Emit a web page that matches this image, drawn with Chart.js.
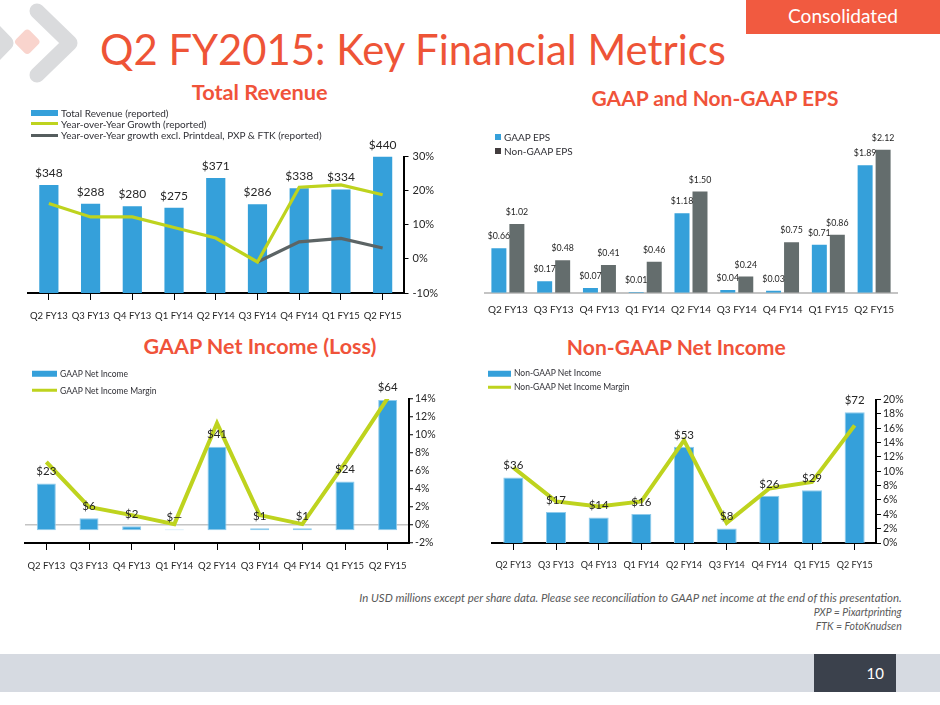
<!DOCTYPE html>
<html>
<head>
<meta charset="utf-8">
<script src="https://cdn.jsdelivr.net/npm/chart.js@4.4.1/dist/chart.umd.min.js"></script>
<style>
  html, body { margin:0; padding:0; }
  body { width:940px; height:705px; position:relative; background:#fff; overflow:hidden; font-family: Lato, 'Open Sans', sans-serif; }
  .abs { position:absolute; }
  .ctr { position:absolute; transform:translate(-50%,-50%); white-space:nowrap; line-height:1; }
  .vc { position:absolute; transform:translateY(-50%); white-space:nowrap; line-height:1; }
  .ctitle { color:#F0533A; font-weight:700; font-size:21px; }
  .leg { position:absolute; display:flex; align-items:center; white-space:nowrap; color:#303036; transform:translateY(-50%); line-height:1; }
  .leg .mk { display:inline-block; margin-right:3px; }
  canvas { position:absolute; }
  .foot { color:#595959; font-style:italic; font-size:10.5px; right:38.3px; }
</style>
</head>
<body>

<!-- logo -->
<svg class="abs" style="left:0;top:0" width="90" height="90" viewBox="0 0 90 90">
  <polyline points="-26,10 6,43 -26,76" fill="none" stroke="#DADBDD" stroke-width="15" stroke-linecap="round" stroke-linejoin="round"/>
  <polyline points="37,11 70,43 37,75" fill="none" stroke="#DADBDD" stroke-width="15" stroke-linecap="round" stroke-linejoin="round"/>
  <rect x="17.5" y="32" width="19.5" height="19.5" rx="4" transform="rotate(45 27.25 41.75)" fill="#F9D4CD"/>
</svg>

<!-- header -->
<div class="abs" style="left:746px;top:0;width:194px;height:34px;background:#F15A40;"></div>
<div class="ctr" id="consol" style="left:843px;top:16px;color:#fff;font-size:19px;">Consolidated</div>
<div class="vc" id="mainTitle" style="left:100px;top:49.5px;color:#EE5437;font-size:42px;">Q2 FY2015: Key Financial Metrics</div>

<!-- chart titles -->
<div class="ctr ctitle" id="t1" style="left:259.7px;top:93.3px;">Total Revenue</div>
<div class="ctr ctitle" id="t2" style="left:715px;top:97.3px;">GAAP and Non-GAAP EPS</div>
<div class="ctr ctitle" id="t3" style="left:260px;top:347px;">GAAP Net Income (Loss)</div>
<div class="ctr ctitle" id="t4" style="left:676.3px;top:347px;">Non-GAAP Net Income</div>

<!-- canvases -->
<canvas id="c1" width="470" height="230" style="left:0;top:100px;"></canvas>
<canvas id="c2" width="470" height="230" style="left:470px;top:100px;"></canvas>
<canvas id="c3" width="470" height="225" style="left:0;top:355px;"></canvas>
<canvas id="c4" width="470" height="225" style="left:470px;top:355px;"></canvas>

<!-- legends -->
<div class="leg" style="left:31px;top:113.3px;font-size:10px;"><span class="mk" style="width:27px;height:6px;background:#35A0DA;"></span>Total Revenue (reported)</div>
<div class="leg" style="left:31px;top:123.7px;font-size:10px;"><span class="mk" style="width:27px;height:3px;background:#BED31E;"></span>Year-over-Year Growth (reported)</div>
<div class="leg" style="left:31px;top:135px;font-size:10px;"><span class="mk" style="width:27px;height:3px;background:#555D5E;"></span>Year-over-Year growth excl. Printdeal, PXP &amp; FTK (reported)</div>

<div class="leg" style="left:495px;top:136.7px;font-size:10px;"><span class="mk" style="width:6px;height:6px;background:#35A0DA;margin-right:3px;"></span>GAAP EPS</div>
<div class="leg" style="left:495px;top:151px;font-size:10px;"><span class="mk" style="width:6px;height:6px;background:#423C3E;margin-right:3px;"></span>Non-GAAP EPS</div>

<div class="leg" style="left:32px;top:374px;font-size:8.5px;"><span class="mk" style="width:25px;height:6px;background:#35A0DA;"></span>GAAP Net Income</div>
<div class="leg" style="left:32px;top:390.7px;font-size:8.5px;"><span class="mk" style="width:25px;height:3px;background:#BED31E;"></span>GAAP Net Income Margin</div>

<div class="leg" style="left:488px;top:373.3px;font-size:8.5px;"><span class="mk" style="width:23px;height:6px;background:#35A0DA;"></span>Non-GAAP Net Income</div>
<div class="leg" style="left:488px;top:387.3px;font-size:8.5px;"><span class="mk" style="width:23px;height:3px;background:#BED31E;"></span>Non-GAAP Net Income Margin</div>

<!-- footnotes -->
<div class="vc foot" id="f1" style="top:598px;">In USD millions except per share data. Please see reconciliation to GAAP net income at the end of this presentation.</div>
<div class="vc foot" style="top:611.7px;">PXP = Pixartprinting</div>
<div class="vc foot" style="top:625.7px;">FTK = FotoKnudsen</div>

<!-- footer band -->
<div class="abs" style="left:0;top:654px;width:940px;height:38px;background:#D6DAE1;"></div>
<div class="abs" style="left:814px;top:654px;width:82px;height:38px;background:#3B414C;"></div>
<div class="vc" style="right:56px;top:673px;color:#fff;font-size:15px;">10</div>

<script>
// ---------------- DATA ----------------
const categories = ['Q2 FY13','Q3 FY13','Q4 FY13','Q1 FY14','Q2 FY14','Q3 FY14','Q4 FY14','Q1 FY15','Q2 FY15'];

const totalRevenue   = [348, 288, 280, 275, 371, 286, 338, 334, 440];
const yoyGrowth      = [16.2, 12.3, 12.3, 9.2, 6.1, -0.9, 21.0, 21.7, 18.8];
const yoyGrowthExcl  = [null, null, null, null, null, -0.9, 5.0, 6.0, 3.2];
const revenuePctTicks = [-10, 0, 10, 20, 30];

const gaapEps    = [0.66, 0.17, 0.07, 0.01, 1.18, 0.04, 0.03, 0.71, 1.89];
const nonGaapEps = [1.02, 0.48, 0.41, 0.46, 1.50, 0.24, 0.75, 0.86, 2.12];

const gaapNetIncome  = [23, 6, 2, 0.4, 41, 1, 1, 24, 64];
const gaapMargin     = [7.0, 2.0, 1.1, 0.1, 11.3, 1.1, 0.1, 6.9, 14.1];
const gaapPctTicks   = [-2, 0, 2, 4, 6, 8, 10, 12, 14];

const nonGaapNetIncome = [36, 17, 14, 16, 53, 8, 26, 29, 72];
const nonGaapMargin    = [10.5, 5.8, 5.1, 5.8, 14.3, 2.8, 7.6, 8.5, 16.4];
const nonGaapPctTicks  = [0, 2, 4, 6, 8, 10, 12, 14, 16, 18, 20];

// ---------------- TEXT FITTING ----------------
function fitText(id, w) {
  const el = document.getElementById(id);
  const cur = el.getBoundingClientRect().width;
  const fs = parseFloat(getComputedStyle(el).fontSize);
  el.style.fontSize = (fs * w / cur) + 'px';
}
fitText('mainTitle', 626);
fitText('t1', 136);
fitText('t2', 247);
fitText('t3', 233);
fitText('t4', 219);
fitText('f1', 543);
fitText('consol', 110);

// ---------------- CHARTS ----------------
Chart.defaults.font.family = "Lato, 'Open Sans', sans-serif";
Chart.defaults.color = '#262626';

const BLUE = '#35A0DA', GREEN = '#BED31E', DARK = '#5C6465', EPSGRAY = '#646D6D';

// value labels drawn on top of everything
const valueLabels = {
  id: 'valueLabels',
  afterDatasetsDraw(chart, args, opts) {
    if (!opts.sets) return;
    const ctx = chart.ctx;
    ctx.save();
    ctx.font = opts.font;
    ctx.fillStyle = opts.color || '#262626';
    ctx.textAlign = 'center';
    ctx.textBaseline = 'alphabetic';
    opts.sets.forEach(di => {
      const ds = chart.data.datasets[di];
      chart.getDatasetMeta(di).data.forEach((el, i) => {
        const v = ds.data[i];
        if (v == null) return;
        ctx.fillText(opts.format(v), el.x, el.y - opts.offset);
      });
    });
    ctx.restore();
  }
};

const baseOpts = {
  responsive: false,
  animation: false,
  events: [],
};

function ticksFrom(arr) {
  return s => { s.ticks = arr.map(v => ({ value: v })); };
}

// Chart 1: Total Revenue
new Chart(document.getElementById('c1'), {
  type: 'bar',
  data: {
    labels: categories,
    datasets: [
      { type: 'line', data: yoyGrowth, yAxisID: 'y1', borderColor: GREEN, borderWidth: 3.2, pointRadius: 0, tension: 0, order: 1 },
      { type: 'line', data: yoyGrowthExcl, yAxisID: 'y1', borderColor: DARK, borderWidth: 3.2, pointRadius: 0, tension: 0, order: 2 },
      { type: 'bar', data: totalRevenue, yAxisID: 'y', backgroundColor: BLUE, barPercentage: 0.46, categoryPercentage: 1, order: 3 }
    ]
  },
  options: Object.assign({}, baseOpts, {
    layout: { padding: { left: 28, top: 56.5, right: 0, bottom: 0 } },
    plugins: {
      legend: { display: false }, tooltip: { enabled: false },
      valueLabels: { sets: [2], font: "12px Lato, 'Open Sans', sans-serif", offset: 8, format: v => '$' + v }
    },
    scales: {
      x: {
        offset: true,
        border: { color: '#000', width: 2 },
        grid: { display: true, drawOnChartArea: false, drawTicks: true, tickLength: 7, tickColor: '#000', tickWidth: 1, offset: false },
        ticks: { font: { size: 9.5 }, color: '#262626', padding: 10, maxRotation: 0, autoSkip: false },
        afterFit(s) { s.height = 37; }
      },
      y: { display: false, min: 0, max: 440 },
      y1: {
        position: 'right',
        min: revenuePctTicks[0], max: revenuePctTicks[revenuePctTicks.length - 1],
        afterBuildTicks: ticksFrom(revenuePctTicks),
        ticks: { callback: v => v + '%', font: { size: 11 }, padding: 4, color: '#262626', autoSkip: false },
        border: { color: '#000', width: 2 },
        grid: { drawOnChartArea: false, tickLength: 5, tickColor: '#000', tickWidth: 1 },
        afterFit(s) { s.width = 66.5; }
      }
    }
  }),
  plugins: [valueLabels]
});

// Chart 2: EPS
new Chart(document.getElementById('c2'), {
  type: 'bar',
  data: {
    labels: categories,
    datasets: [
      { data: gaapEps, backgroundColor: BLUE, barPercentage: 0.833, categoryPercentage: 0.786 },
      { data: nonGaapEps, backgroundColor: EPSGRAY, barPercentage: 0.833, categoryPercentage: 0.786 }
    ]
  },
  options: Object.assign({}, baseOpts, {
    layout: { padding: { left: 15, top: 41, right: 43, bottom: 0 } },
    plugins: {
      legend: { display: false }, tooltip: { enabled: false },
      valueLabels: { sets: [0, 1], font: "8.8px Lato, 'Open Sans', sans-serif", offset: 9, format: v => '$' + v.toFixed(2) }
    },
    scales: {
      x: {
        offset: true,
        border: { color: '#C4C4C4', width: 2 },
        grid: { display: true, drawOnChartArea: false, drawTicks: false },
        ticks: { font: { size: 10 }, color: '#262626', padding: 11, maxRotation: 0, autoSkip: false },
        afterFit(s) { s.height = 37.3; }
      },
      y: { display: false, min: 0, max: 2.25 }
    }
  }),
  plugins: [valueLabels]
});

// Chart 3: GAAP Net Income
new Chart(document.getElementById('c3'), {
  type: 'bar',
  data: {
    labels: categories,
    datasets: [
      { type: 'line', data: gaapMargin, yAxisID: 'y1', borderColor: GREEN, borderWidth: 4, pointRadius: 0, tension: 0, order: 1 },
      { type: 'bar', data: gaapNetIncome, yAxisID: 'y', backgroundColor: BLUE, borderColor: '#8FCBEC', borderWidth: 1, borderSkipped: false, barPercentage: 0.445, categoryPercentage: 1, order: 2 }
    ]
  },
  options: Object.assign({}, baseOpts, {
    layout: { padding: { left: 25, top: 44, right: 0, bottom: 0 } },
    plugins: {
      legend: { display: false }, tooltip: { enabled: false },
      valueLabels: { sets: [1], font: "11.5px Lato, 'Open Sans', sans-serif", offset: 8.6, format: v => Math.round(v) === 0 ? '$—' : '$' + Math.round(v) }
    },
    scales: {
      x: {
        offset: true,
        border: { color: '#000', width: 2 },
        grid: { display: true, drawOnChartArea: false, drawTicks: true, tickLength: 7, tickColor: '#000', tickWidth: 1, offset: false },
        ticks: { font: { size: 9.5 }, color: '#262626', padding: 10, maxRotation: 0, autoSkip: false },
        afterFit(s) { s.height = 37; }
      },
      y: { display: false, min: -6.2, max: 64.5 },
      y1: {
        position: 'right',
        min: gaapPctTicks[0], max: gaapPctTicks[gaapPctTicks.length - 1],
        afterBuildTicks: ticksFrom(gaapPctTicks),
        ticks: { callback: v => v + '%', font: { size: 10.5 }, padding: 2, color: '#262626', autoSkip: false },
        border: { color: '#000', width: 2 },
        grid: {
          drawOnChartArea: true,
          color: c => (c.tick && c.tick.value === 0) ? '#C4C4C4' : 'rgba(0,0,0,0)',
          lineWidth: 1.5,
          tickLength: 4, tickColor: '#000', tickWidth: 1
        },
        afterFit(s) { s.width = 61; }
      }
    }
  }),
  plugins: [valueLabels]
});

// Chart 4: Non-GAAP Net Income
new Chart(document.getElementById('c4'), {
  type: 'bar',
  data: {
    labels: categories,
    datasets: [
      { type: 'line', data: nonGaapMargin, yAxisID: 'y1', borderColor: GREEN, borderWidth: 4, pointRadius: 0, tension: 0, order: 1 },
      { type: 'bar', data: nonGaapNetIncome, yAxisID: 'y', backgroundColor: BLUE, borderColor: '#8FCBEC', borderWidth: 1, borderSkipped: 'start', barPercentage: 0.47, categoryPercentage: 1, order: 2 }
    ]
  },
  options: Object.assign({}, baseOpts, {
    layout: { padding: { left: 22, top: 44.5, right: 0, bottom: 0 } },
    plugins: {
      legend: { display: false }, tooltip: { enabled: false },
      valueLabels: { sets: [1], font: "11.5px Lato, 'Open Sans', sans-serif", offset: 8.2, format: v => '$' + v }
    },
    scales: {
      x: {
        offset: true,
        border: { color: '#000', width: 2 },
        grid: { display: true, drawOnChartArea: false, drawTicks: true, tickLength: 7, tickColor: '#000', tickWidth: 1, offset: false },
        ticks: { font: { size: 9 }, color: '#262626', padding: 10, maxRotation: 0, autoSkip: false },
        afterFit(s) { s.height = 37; }
      },
      y: { display: false, min: 0, max: 79 },
      y1: {
        position: 'right',
        min: nonGaapPctTicks[0], max: nonGaapPctTicks[nonGaapPctTicks.length - 1],
        afterBuildTicks: ticksFrom(nonGaapPctTicks),
        ticks: { callback: v => v + '%', font: { size: 10.5 }, padding: 2, color: '#262626', autoSkip: false },
        border: { color: '#000', width: 2 },
        grid: { drawOnChartArea: false, tickLength: 5, tickColor: '#000', tickWidth: 1 },
        afterFit(s) { s.width = 64; }
      }
    }
  }),
  plugins: [valueLabels]
});
</script>
</body>
</html>
